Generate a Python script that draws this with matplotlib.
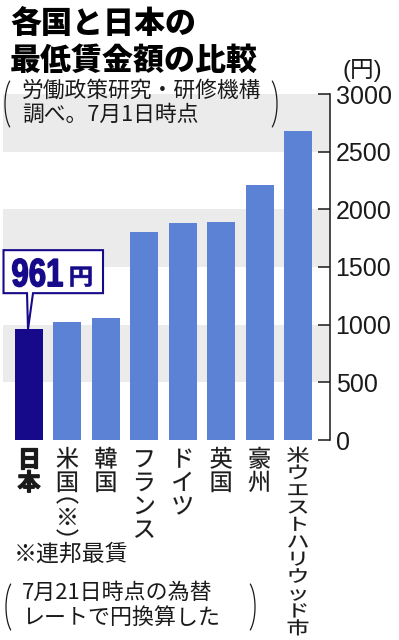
import numpy as np
import matplotlib
matplotlib.use("Agg")
import matplotlib.pyplot as plt
from matplotlib.textpath import TextPath
from matplotlib.patches import PathPatch, Polygon
from matplotlib.font_manager import FontProperties
from matplotlib.transforms import Affine2D

plt.rcParams['font.family'] = ['Noto Sans CJK JP', 'DejaVu Sans']

# ---------------- data ----------------
categories = ["日本", "米国（※）", "韓国", "フランス", "ドイツ", "英国", "豪州", "米ウエストハリウッド市"]
values = [961, 1020, 1060, 1806, 1880, 1888, 2211, 2680]
highlight = "日本"
yticks = [0, 500, 1000, 1500, 2000, 2500, 3000]
bands = [(500, 1000), (1500, 2000), (2500, 3000)]
title_lines = ["各国と日本の", "最低賃金額の比較"]
source_lines = ["労働政策研究・研修機構", "調べ。7月1日時点"]
unit_label = "(円)"
callout_unit = "円"
footnote = "※連邦最賃"
note_lines = ["7月21日時点の為替", "レートで円換算した"]

NAVY = "#170a8a"
BLUE = "#5b82d5"
BAND = "#ebebeb"
INK = "#1a1a1a"

W, H = 399, 640
fig = plt.figure(figsize=(W / 100, H / 100), dpi=100)
ax = fig.add_axes([3 / W, 200 / H, 327 / W, 346 / H])
xpos = list(range(len(categories)))
for lo, hi in bands:
    ax.axhspan(lo, hi, color=BAND, lw=0, zorder=0)
colors = [NAVY if c == highlight else BLUE for c in categories]
ax.bar(xpos, values, width=0.73, color=colors, zorder=2)
ax.set_xlim(-0.677, 7.833)
ax.set_ylim(0, 3000)
ax.set_yticks(yticks)
ax.yaxis.tick_right()
ax.set_xticks([])
for s in ['left', 'top', 'bottom']:
    ax.spines[s].set_visible(False)
ax.spines['right'].set_color(INK)
ax.spines['right'].set_linewidth(1.1)
ax.tick_params(axis='y', direction='in', length=8.6, width=1.1, color=INK,
               pad=4, labelsize=18, labelcolor=INK, labelfontfamily='Liberation Sans')
ax.patch.set_alpha(0)

# overlay in pixel coordinates
ov = fig.add_axes([0, 0, 1, 1], zorder=5)
ov.set_xlim(0, W)
ov.set_ylim(H, 0)
ov.axis('off')
ov.patch.set_alpha(0)


def to_px(xv, yv):
    dx, dy = ax.transData.transform((xv, yv))
    return dx, H - dy


JP = FontProperties(family='Noto Sans CJK JP')
JPB = FontProperties(family='Noto Sans CJK JP', weight='bold')
LSB = FontProperties(family='Liberation Sans', weight='bold')


def vchar(ch, xc, top, em_w, em_h, prop, color, stroke=0.0):
    tp = TextPath((0, 0), ch, size=100, prop=prop)
    tr = Affine2D().translate(-50, -88).scale(em_w / 100, -em_h / 100).translate(xc, top)
    ov.add_patch(PathPatch(tr.transform_path(tp), fc=color,
                           ec=color if stroke else 'none', lw=stroke, zorder=4))


def fit_text(s, x0, x1, ytop, ybot, prop, color, stroke=0.0):
    tp = TextPath((0, 0), s, size=100, prop=prop)
    e = tp.get_extents()
    sx = (x1 - x0) / e.width
    sy = (ybot - ytop) / e.height
    tr = Affine2D().translate(-e.x0, -e.y0).scale(sx, -sy).translate(x0, ybot)
    ov.add_patch(PathPatch(tr.transform_path(tp), fc=color,
                           ec=color if stroke else 'none', lw=stroke, zorder=6))


def paren(cx, cy, a, b, side):
    t = np.linspace(np.radians(125), np.radians(235), 40)
    xs = cx + a * np.cos(t) * (1 if side == 'left' else -1)
    ys = cy + b * np.sin(t)
    ov.plot(xs, ys, color=INK, lw=0.9, solid_capstyle='round')


# vertical category labels
VERT = {'（': '︵', '）': '︶'}
for i, lab in enumerate(categories):
    xc, y0 = to_px(i, 0)
    chars = [VERT.get(c, c) for c in lab]
    ncells = sum(0.5 if c in ('︵', '︶') else 1 for c in chars)
    em_h = min(23.5, (636 - 446) / ncells)
    is_hi = lab == highlight
    prop = JPB if is_hi else JP
    stroke = 0.9 if is_hi else 0.15
    top = y0 + 6
    for c in chars:
        if c == '︵':
            vchar(c, xc, top - em_h / 2, 23, em_h, prop, INK, stroke)
            top += em_h / 2
        elif c == '︶':
            vchar(c, xc, top, 23, em_h, prop, INK, stroke)
            top += em_h / 2
        else:
            vchar(c, xc, top, 23, em_h, prop, INK, stroke)
            top += em_h

# callout for highlighted bar
hi_idx = categories.index(highlight)
px, py = to_px(hi_idx, values[hi_idx])
L, R, T, B = px - 25.5, px + 74, py - 79, py - 36
ov.add_patch(Polygon([(L, B), (L, T), (R, T), (R, B), (px + 4, B), (px - 1, py), (px - 2, B)],
                     closed=True, fc='white', ec=NAVY, lw=1.5, joinstyle='miter', zorder=3))
fit_text(str(values[hi_idx]), L + 9, L + 59, T + 8.5, T + 36.5, LSB, NAVY, stroke=1.0)
fit_text(callout_unit, L + 67, L + 88, T + 16.5, T + 36.5, JPB, NAVY, stroke=0.4)

# titles
ov.text(10, 23, title_lines[0], fontsize=22.3, weight='heavy', color='black', va='center', ha='left')
ov.text(10, 60, title_lines[1], fontsize=22.3, weight='heavy', color='black', va='center', ha='left')
ov.text(22, 91, source_lines[0], fontsize=15.7, color=INK, va='center', ha='left')
ov.text(22, 115, source_lines[1], fontsize=15.7, color=INK, va='center', ha='left')
paren(16, 104, 11, 28, 'left')
paren(266, 104, 11, 28, 'right')

# unit label
ov.text(362, 70, unit_label, fontsize=17, color=INK, va='center', ha='center',
        family=['Liberation Sans', 'Noto Sans CJK JP'])

# footnotes
ov.text(14, 554, footnote, fontsize=16.5, color=INK, va='center', ha='left')
ov.text(22, 593, note_lines[0], fontsize=15.8, color=INK, va='center', ha='left')
ov.text(22, 618, note_lines[1], fontsize=15.8, color=INK, va='center', ha='left')
paren(17, 607, 11, 28, 'left')
paren(244, 607, 11, 28, 'right')

fig.savefig('out.png', dpi=100, facecolor='white')
